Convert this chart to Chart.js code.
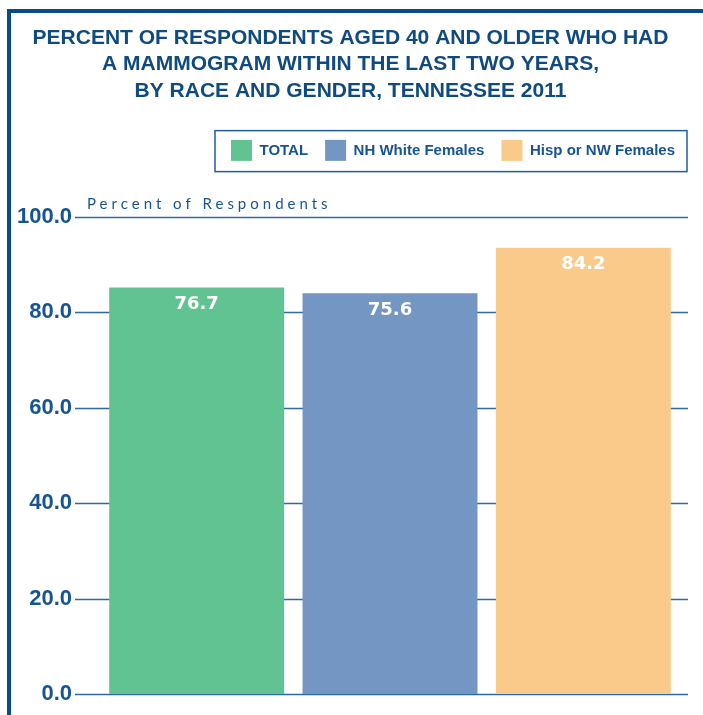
<!DOCTYPE html>
<html>
<head>
<meta charset="utf-8">
<script src="https://cdn.jsdelivr.net/npm/chart.js@4.4.1/dist/chart.umd.min.js"></script>
<style>
  html, body { margin: 0; padding: 0; background: #fff; }
  #wrap { position: relative; width: 703px; height: 715px; overflow: hidden; }
  #frame {
    position: absolute; left: 7px; top: 9px; right: 0; bottom: -10px;
    border-top: 4px solid #0b4a85; border-left: 4px solid #0b4a85;
  }
  canvas { position: absolute; left: 0; top: 0; }
</style>
</head>
<body>
<div id="wrap">
  <div id="frame"></div>
  <canvas id="mammoChart" width="703" height="715"></canvas>
</div>
<script>
const categories = ['TOTAL', 'NH White Females', 'Hisp or NW Females'];
const percentValues = [76.7, 75.6, 84.2];
const barColors = ['#62c392', '#7496c3', '#f9ca8a'];
const yTicks = [0, 20, 40, 60, 80, 100];
const titleLines = [
    'PERCENT OF RESPONDENTS AGED 40 AND OLDER WHO HAD',
    'A MAMMOGRAM WITHIN THE LAST TWO YEARS,',
    'BY RACE AND GENDER, TENNESSEE 2011'
];
const axisTitle = 'Percent of Respondents';

const BLUE = '#175494';
const DARK_BLUE = '#0f4a80';

// one dataset per group so the legend shows all three
const datasets = categories.map((name, i) => ({
    label: name,
    data: percentValues.map((v, j) => (j === i ? v : null)),
    backgroundColor: barColors[i],
    borderWidth: 0,
    grouped: false,
    barPercentage: 0.905,
    categoryPercentage: 1
}));

// gridlines reach past the plot area on both sides, behind the bars
const gridLines = {
    id: 'gridLines',
    beforeDatasetsDraw(chart) {
        const { ctx, scales: { y } } = chart;
        ctx.save();
        ctx.strokeStyle = '#2d6aa6';
        ctx.lineWidth = 1.5;
        yTicks.forEach(t => {
            const py = Math.round(y.getPixelForValue(t)) + 0.5;
            ctx.beginPath();
            ctx.moveTo(75, py);
            ctx.lineTo(688, py);
            ctx.stroke();
        });
        ctx.restore();
    }
};

// value labels inside the top of each bar, axis caption, legend frame
const extras = {
    id: 'extras',
    afterDatasetsDraw(chart) {
        const ctx = chart.ctx;
        ctx.save();
        ctx.fillStyle = '#ffffff';
        ctx.font = 'bold 18px "DejaVu Sans"';
        ctx.textAlign = 'center';
        ctx.textBaseline = 'middle';
        chart.data.datasets.forEach((ds, i) => {
            const bar = chart.getDatasetMeta(i).data[i];
            ctx.fillText(percentValues[i].toFixed(1), bar.x, bar.y + 17);
        });

        ctx.fillStyle = BLUE;
        ctx.font = '15px Lato';
        ctx.letterSpacing = '4px';
        ctx.textAlign = 'left';
        ctx.textBaseline = 'alphabetic';
        ctx.fillText(axisTitle, 87, 209);
        ctx.letterSpacing = '0px';

        const boxes = chart.legend.legendHitBoxes;
        if (boxes && boxes.length) {
            const first = boxes[0];
            const last = boxes[boxes.length - 1];
            const x0 = first.left - 16;
            const x1 = last.left + last.width + 12;
            ctx.strokeStyle = '#1f5f9e';
            ctx.lineWidth = 1.5;
            ctx.strokeRect(x0, first.top - 9.25, x1 - x0, 41);
        }
        ctx.restore();
    }
};

// scales that only hold space around the plot
const spacerAxis = (size, key, position, weight) => ({
    type: 'linear',
    position: position,
    weight: weight,
    display: true,
    grid: { display: false, drawTicks: false },
    border: { display: false },
    ticks: { display: false, padding: 0 },
    afterFit(scale) { scale[key] = size; }
});

new Chart(document.getElementById('mammoChart'), {
    type: 'bar',
    data: { labels: categories, datasets: datasets },
    options: {
        responsive: false,
        animation: false,
        layout: { padding: { left: 9, right: 11, top: 25, bottom: 21 } },
        plugins: {
            tooltip: { enabled: false },
            title: {
                display: true,
                text: titleLines,
                color: DARK_BLUE,
                font: { family: '"Liberation Sans", Arial, sans-serif', size: 21, weight: 'bold', lineHeight: 1.26 },
                padding: { top: 0, bottom: 18.5 }
            },
            legend: {
                display: true,
                align: 'end',
                labels: {
                    boxWidth: 21,
                    boxHeight: 21,
                    padding: 17,
                    color: BLUE,
                    font: { family: '"Liberation Sans", Arial, sans-serif', size: 15, weight: 'bold' }
                }
            }
        },
        scales: {
            x: {
                position: 'top',
                display: true,
                grid: { display: false, drawTicks: false },
                border: { display: false },
                ticks: { display: false },
                afterFit(scale) { scale.height = 46; }
            },
            yRight: spacerAxis(12, 'width', 'right', 0),
            yGap: spacerAxis(28, 'width', 'left', 0),
            y: {
                min: 0,
                max: 100,
                weight: 1,
                afterFit(scale) { scale.width = 63; },
                afterBuildTicks(scale) { scale.ticks = yTicks.map(v => ({ value: v })); },
                border: { display: false },
                grid: { display: false, drawTicks: false },
                ticks: {
                    padding: 0,
                    color: BLUE,
                    font: { family: '"Liberation Sans", Arial, sans-serif', size: 22, weight: 'bold' },
                    callback: v => v.toFixed(1)
                }
            }
        }
    },
    plugins: [gridLines, extras]
});
</script>
</body>
</html>
